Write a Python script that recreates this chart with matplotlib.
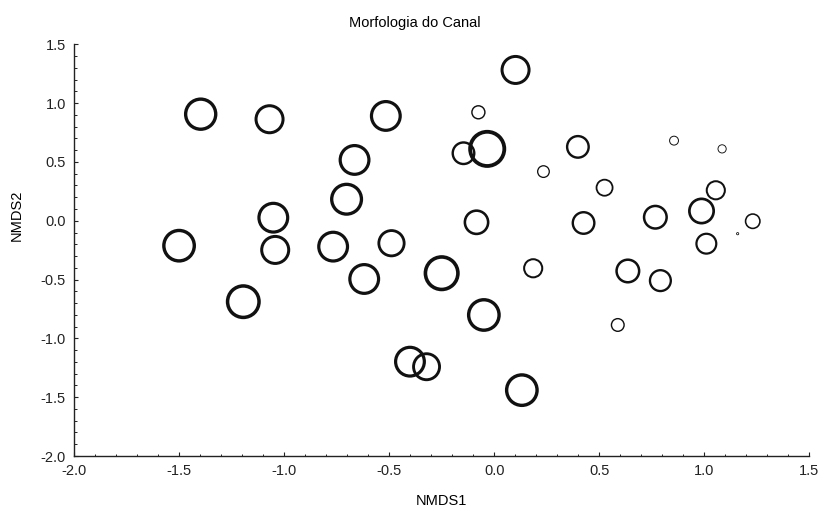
import matplotlib
matplotlib.use("Agg")
import matplotlib.pyplot as plt
import numpy as np
from matplotlib.ticker import MultipleLocator

plt.rcParams['font.family'] = ['Liberation Sans', 'DejaVu Sans']

# NMDS scores per site and the bubble variable (relative scale, 0-1)
nmds1 = [-1.398, -1.070, -0.516, -0.075, -0.665, -0.146, -0.033, -0.703,
         -1.052, -0.084, -1.501, -1.043, -0.767, -0.489, -0.619, -0.250,
         -1.195, 0.102, 0.399, 0.235, 0.857, 1.086, 0.526, 1.056,
         0.988, 0.768, 0.426, 1.232, 1.160, 1.011, 0.186, 0.637,
         0.792, -0.049, 0.589, -0.401, -0.322, 0.132]
nmds2 = [0.906, 0.863, 0.891, 0.922, 0.517, 0.574, 0.611, 0.183,
         0.026, -0.013, -0.212, -0.248, -0.220, -0.191, -0.495, -0.446,
         -0.688, 1.282, 0.628, 0.418, 0.681, 0.611, 0.281, 0.259,
         0.083, 0.030, -0.019, -0.004, -0.110, -0.195, -0.404, -0.427,
         -0.509, -0.801, -0.886, -1.198, -1.241, -1.440]
morfologia = [0.88, 0.79, 0.84, 0.38, 0.84, 0.63, 1.00, 0.87,
              0.84, 0.68, 0.89, 0.79, 0.84, 0.74, 0.84, 0.95,
              0.92, 0.79, 0.63, 0.34, 0.26, 0.24, 0.47, 0.53,
              0.71, 0.66, 0.63, 0.42, 0.08, 0.58, 0.53, 0.66,
              0.61, 0.89, 0.37, 0.84, 0.76, 0.89]

fig = plt.figure(figsize=(8.24, 5.11), dpi=100)
ax = fig.add_axes([0.0902, 0.1076, 0.8916, 0.8057])

# bubble radius in pixels, ring width grows with the bubble
z = np.array(morfologia)
r_out = z * 19.0
lw_px = np.maximum(0.2 * r_out, 0.8)
px2pt = 72.0 / fig.dpi
diam_pt = 2 * (r_out - lw_px / 2) * px2pt
for x, y, d, lw in zip(nmds1, nmds2, diam_pt, lw_px):
    ax.scatter([x], [y], s=d ** 2, facecolors='none', edgecolors='#111111',
               linewidths=lw * px2pt, zorder=3)

ax.set_xlim(-2.0, 1.5)
ax.set_ylim(-2.0, 1.5)
ax.xaxis.set_major_locator(MultipleLocator(0.5))
ax.yaxis.set_major_locator(MultipleLocator(0.5))
ax.xaxis.set_minor_locator(MultipleLocator(0.1))
ax.yaxis.set_minor_locator(MultipleLocator(0.1))
ax.xaxis.set_major_formatter(plt.FormatStrFormatter('%.1f'))
ax.yaxis.set_major_formatter(plt.FormatStrFormatter('%.1f'))

for side in ['top', 'right']:
    ax.spines[side].set_visible(False)
for side in ['left', 'bottom']:
    ax.spines[side].set_linewidth(1.0)
    ax.spines[side].set_color('#222222')

ax.tick_params(which='major', direction='in', length=3, width=0.8,
               labelsize=10.5, pad=6, colors='#222222')
ax.tick_params(which='minor', direction='in', length=1.8, width=0.7,
               colors='#222222')

ax.set_xlabel('NMDS1', fontsize=10.5, labelpad=11)
fig.text(0.02, 0.578, 'NMDS2', rotation=90, fontsize=10.5,
         ha='center', va='center')
fig.text(0.504, 0.955, 'Morfologia do Canal', fontsize=10.5,
         ha='center', va='center')

fig.savefig('out.png', dpi=100)
